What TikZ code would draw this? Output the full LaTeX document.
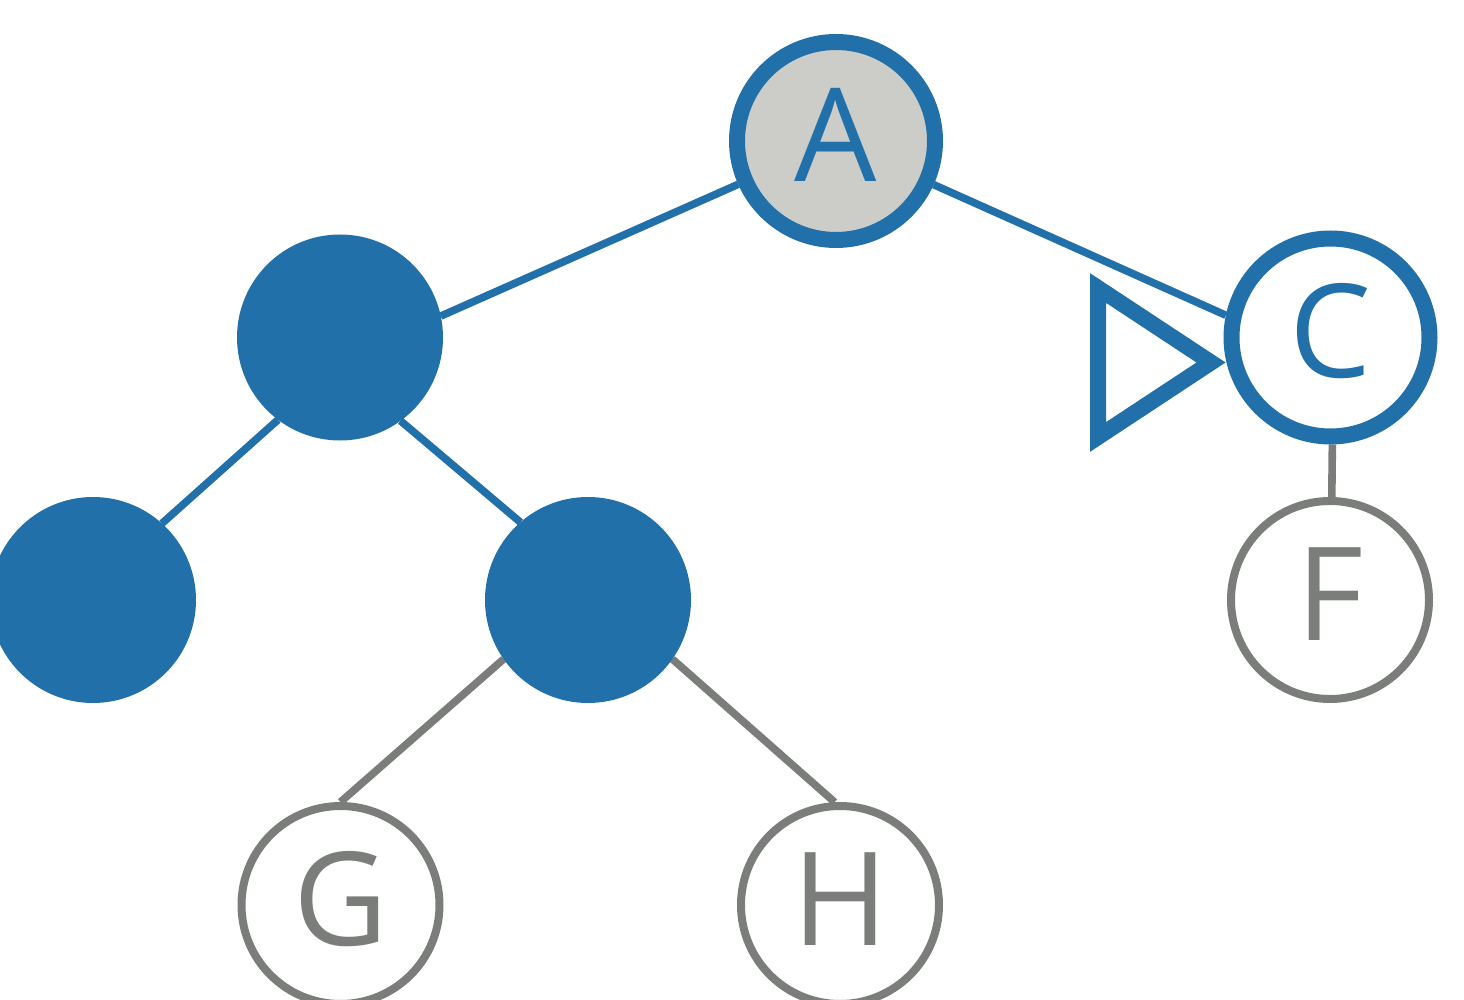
\documentclass[tikz,border=0pt]{standalone}
\usepackage{fontspec}
\setmainfont{Open Sans}
\usetikzlibrary{backgrounds}
\definecolor{tblue}{HTML}{2170AA}
\definecolor{tgray}{HTML}{7B7D7B}
\definecolor{tfill}{HTML}{CCCDC8}
\begin{document}
\begin{tikzpicture}[x=0.5pt,y=-0.5pt,
  vtx/.style={circle, minimum size=99pt, inner sep=0pt, font=\fontsize{65}{70}\selectfont, text height=47pt, text depth=6.5pt},
  hot/.style={vtx, draw=tblue, line width=8pt, text=tblue},
  full/.style={vtx, draw=tblue, fill=tblue, line width=4pt},
  cold/.style={vtx, draw=tgray, fill=white, line width=4pt, text=tgray},
  bedge/.style={draw=tblue, line width=3.8pt},
  gedge/.style={draw=tgray, line width=3.8pt}]
\useasboundingbox (0,0) rectangle (1464,1000);
\node[hot, fill=tfill] (A) at (836,141) {A};
\node[full] (B) at (340,337.5) {};
\node[hot, fill=white] (C) at (1330.5,337.5) {C};
\node[full] (D) at (93,600) {};
\node[full] (E) at (588,600) {};
\node[cold] (F) at (1330,600) {F};
\node[cold] (G) at (340.5,905) {G};
\node[cold] (H) at (840,905) {H};
\begin{scope}[on background layer]
\draw[bedge] (A) -- (B.12);
\draw[bedge] (A) -- (C.168);
\draw[bedge] (B.233) -- (D.48);
\draw[bedge] (B.306) -- (E.131);
\draw[gedge] (E.215) -- (G.90);
\draw[gedge] (E.325) -- (H.93);
\draw[gedge] (C.271) -- (F.89);
\end{scope}
\draw[tblue, line width=8pt, miter limit=10] (1098,288) -- (1098,437) -- (1211,362.5) -- cycle;
\end{tikzpicture}
\end{document}
